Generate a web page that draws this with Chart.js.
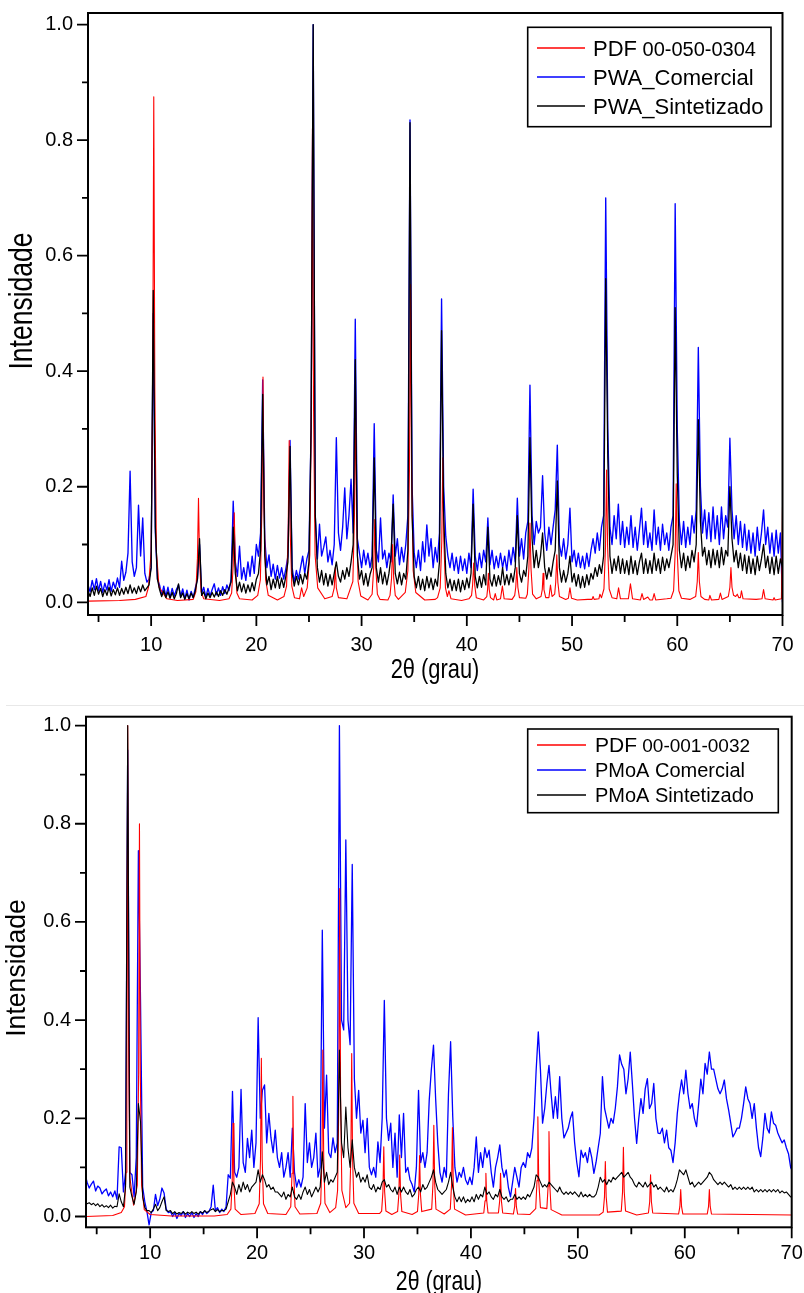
<!DOCTYPE html>
<html><head><meta charset="utf-8">
<script src="https://cdn.jsdelivr.net/npm/chart.js@4.4.1/dist/chart.umd.min.js"></script>
<style>
html,body{margin:0;padding:0;background:#fff;}
body{width:804px;height:1293px;position:relative;overflow:hidden;}
#c1{position:absolute;left:0;top:0;}
#c2{position:absolute;left:0;top:700px;}
#sep{position:absolute;left:6px;right:0;top:705px;height:1px;background:#e8e8e8;}
</style></head><body>
<canvas id="c1" width="804" height="700"></canvas>
<div id="sep"></div>
<canvas id="c2" width="804" height="593"></canvas>
<script>
// ---------- tick / label values ----------
const xMajor = [10,20,30,40,50,60,70];
const xMinor = [5,15,25,35,45,55,65];
const yMajor = [0,0.2,0.4,0.6,0.8,1.0];
const yMinor = [0.1,0.3,0.5,0.7,0.9];
const xTitle = '2θ (grau)';
const yTitle = 'Intensidade';
const pwaLabels = ['PDF 00-050-0304','PWA_Comercial','PWA_Sintetizado'];
const pmoaLabels = ['PDF 00-001-0032','PMoA Comercial','PMoA Sintetizado'];

// ---------- PWA (top) ----------
const pwaTheta = [
4,4.2,4.4,4.6,4.8,5,5.2,5.4,5.6,5.8,
6,6.2,6.4,6.6,6.8,7,7.2,7.4,7.6,7.8,
8,8.2,8.4,8.6,8.8,9,9.2,9.4,9.6,9.8,
10,10.2,10.4,10.6,10.8,11,11.2,11.4,11.6,11.8,
12,12.2,12.4,12.6,12.8,13,13.2,13.4,13.6,13.8,
14,14.2,14.4,14.6,14.8,15,15.2,15.4,15.6,15.8,
16,16.2,16.4,16.6,16.8,17,17.2,17.4,17.6,17.8,
18,18.2,18.4,18.6,18.8,19,19.2,19.4,19.6,19.8,
20,20.2,20.4,20.6,20.8,21,21.2,21.4,21.6,21.8,
22,22.2,22.4,22.6,22.8,23,23.2,23.4,23.6,23.8,
24,24.2,24.4,24.6,24.8,25,25.2,25.4,25.6,25.8,
26,26.2,26.4,26.6,26.8,27,27.2,27.4,27.6,27.8,
28,28.2,28.4,28.6,28.8,29,29.2,29.4,29.6,29.8,
30,30.2,30.4,30.6,30.8,31,31.2,31.4,31.6,31.8,
32,32.2,32.4,32.6,32.8,33,33.2,33.4,33.6,33.8,
34,34.2,34.4,34.6,34.8,35,35.2,35.4,35.6,35.8,
36,36.2,36.4,36.6,36.8,37,37.2,37.4,37.6,37.8,
38,38.2,38.4,38.6,38.8,39,39.2,39.4,39.6,39.8,
40,40.2,40.4,40.6,40.8,41,41.2,41.4,41.6,41.8,
42,42.2,42.4,42.6,42.8,43,43.2,43.4,43.6,43.8,
44,44.2,44.4,44.6,44.8,45,45.2,45.4,45.6,45.8,
46,46.2,46.4,46.6,46.8,47,47.2,47.4,47.6,47.8,
48,48.2,48.4,48.6,48.8,49,49.2,49.4,49.6,49.8,
50,50.2,50.4,50.6,50.8,51,51.2,51.4,51.6,51.8,
52,52.2,52.4,52.6,52.8,53,53.2,53.4,53.6,53.8,
54,54.2,54.4,54.6,54.8,55,55.2,55.4,55.6,55.8,
56,56.2,56.4,56.6,56.8,57,57.2,57.4,57.6,57.8,
58,58.2,58.4,58.6,58.8,59,59.2,59.4,59.6,59.8,
60,60.2,60.4,60.6,60.8,61,61.2,61.4,61.6,61.8,
62,62.2,62.4,62.6,62.8,63,63.2,63.4,63.6,63.8,
64,64.2,64.4,64.6,64.8,65,65.2,65.4,65.6,65.8,
66,66.2,66.4,66.6,66.8,67,67.2,67.4,67.6,67.8,
68,68.2,68.4,68.6,68.8,69,69.2,69.4,69.6,69.8,
70];
const pwaComercial = [
.030,.018,.038,.022,.041,.020,.036,.017,.033,.021,
.039,.019,.035,.024,.042,.026,.071,.038,.052,.085,
.227,.070,.045,.060,.168,.080,.146,.050,.035,.040,
.060,.500,.120,.040,.030,.012,.028,.010,.026,.008,
.024,.011,.022,.030,.010,.023,.006,.021,.004,.019,
.008,.025,.040,.100,.015,.026,.009,.024,.011,.022,
.032,.013,.025,.012,.027,.015,.030,.020,.040,.175,
.070,.045,.097,.040,.060,.038,.070,.045,.080,.050,
.100,.080,.120,.385,.110,.060,.082,.045,.066,.040,
.064,.042,.060,.040,.058,.080,.280,.060,.035,.055,
.040,.060,.080,.050,.075,.090,.300,1.00,.150,.075,
.135,.080,.095,.113,.070,.090,.065,.100,.285,.120,
.090,.130,.198,.110,.150,.213,.120,.490,.110,.085,
.060,.090,.065,.085,.060,.080,.309,.090,.070,.146,
.075,.090,.060,.085,.070,.186,.080,.110,.065,.095,
.070,.100,.150,.835,.200,.085,.060,.090,.055,.105,
.070,.134,.080,.110,.060,.095,.070,.120,.525,.200,
.114,.080,.060,.085,.055,.078,.050,.080,.055,.075,
.050,.085,.060,.196,.080,.055,.085,.060,.090,.070,
.146,.065,.090,.058,.080,.060,.085,.060,.080,.055,
.090,.065,.095,.070,.180,.080,.110,.075,.120,.140,
.376,.150,.100,.140,.120,.130,.219,.120,.090,.130,
.100,.130,.160,.272,.100,.080,.110,.075,.100,.163,
.070,.090,.062,.085,.060,.080,.058,.085,.062,.090,
.110,.085,.120,.090,.130,.150,.700,.300,.130,.100,
.150,.110,.170,.100,.140,.095,.130,.100,.150,.095,
.130,.090,.125,.163,.100,.140,.095,.120,.090,.160,
.100,.130,.090,.135,.100,.120,.090,.130,.150,.690,
.300,.140,.100,.140,.095,.130,.100,.150,.120,.160,
.441,.200,.120,.160,.110,.155,.105,.165,.110,.150,
.100,.165,.110,.150,.130,.284,.160,.110,.150,.100,
.140,.095,.135,.090,.125,.085,.120,.080,.130,.090,
.120,.160,.100,.130,.085,.120,.080,.125,.085,.120,
.000];
const pwaSintetizado = [
.020,.010,.025,.012,.028,.014,.024,.010,.022,.012,
.026,.011,.022,.013,.025,.012,.024,.014,.026,.015,
.030,.016,.025,.015,.028,.018,.030,.020,.025,.030,
.060,.540,.130,.040,.022,.010,.020,.008,.018,.007,
.017,.006,.015,.032,.008,.016,.005,.015,.006,.016,
.008,.020,.040,.110,.012,.018,.006,.016,.008,.017,
.009,.018,.010,.020,.012,.022,.014,.025,.035,.130,
.050,.020,.035,.018,.032,.016,.030,.018,.034,.020,
.040,.050,.090,.360,.080,.030,.045,.022,.040,.025,
.045,.024,.042,.026,.045,.070,.270,.050,.028,.045,
.030,.048,.032,.050,.040,.070,.300,1.00,.150,.060,
.035,.055,.030,.050,.028,.048,.030,.050,.070,.045,
.035,.055,.040,.060,.045,.070,.100,.420,.080,.040,
.055,.030,.050,.028,.048,.060,.250,.060,.035,.060,
.032,.052,.030,.050,.080,.170,.050,.032,.052,.030,
.050,.040,.090,.830,.150,.045,.025,.045,.022,.040,
.020,.045,.025,.042,.022,.040,.028,.070,.470,.150,
.050,.025,.040,.020,.038,.020,.040,.018,.038,.022,
.042,.025,.050,.170,.045,.025,.045,.026,.048,.030,
.130,.040,.028,.048,.028,.046,.030,.060,.030,.048,
.030,.050,.035,.060,.150,.050,.035,.055,.045,.080,
.285,.110,.060,.090,.060,.080,.120,.060,.040,.060,
.045,.070,.090,.210,.060,.035,.055,.035,.050,.080,
.035,.050,.028,.048,.025,.045,.026,.048,.030,.050,
.040,.060,.045,.065,.050,.080,.560,.250,.080,.050,
.075,.055,.080,.050,.075,.050,.072,.048,.080,.050,
.072,.048,.070,.085,.050,.075,.050,.072,.050,.085,
.055,.075,.050,.078,.055,.075,.060,.080,.100,.510,
.220,.090,.060,.085,.055,.080,.060,.090,.070,.100,
.316,.140,.080,.095,.065,.090,.060,.092,.065,.090,
.060,.095,.065,.090,.080,.200,.110,.070,.090,.060,
.085,.055,.082,.050,.080,.050,.075,.048,.080,.055,
.075,.100,.060,.080,.050,.078,.048,.080,.050,.075,
.060];
const pwaPdfTheta = [4,7,8.5,9.5,9.75,10,10.15,10.25,10.35,10.5,10.75,11.5,12.5,14,14.25,14.4,14.5,14.6,14.75,15,16.5,17.4,17.65,17.8,17.9,18,18.15,18.4,19.6,20.13,20.38,20.53,20.63,20.73,20.88,21.13,22,22.62,22.87,23.02,23.12,23.22,23.37,23.62,24.1,24.3,24.5,24.83,25.08,25.23,25.33,25.43,25.58,25.83,26.5,27.2,27.4,27.5,27.6,27.8,28.6,29.17,29.32,29.42,29.52,29.67,29.92,30.6,31,31.15,31.25,31.35,31.5,31.75,32.5,32.7,32.85,32.95,33.05,33.2,33.5,34.15,34.4,34.55,34.65,34.75,34.9,35.15,36,37,37.22,37.47,37.62,37.72,37.82,37.97,38.15,38.3,38.5,39.5,40.2,40.45,40.55,40.65,40.75,40.9,41.6,41.9,41.97,42.05,42.13,42.25,42.55,42.7,42.85,43.2,43.38,43.55,44.3,44.55,44.65,44.75,44.85,45,45.6,45.75,45.9,46,46.1,46.25,46.6,47.05,47.17,47.25,47.33,47.5,47.8,47.95,48.1,48.35,48.45,48.55,48.65,48.8,49.4,49.65,49.8,49.95,50.5,51.5,51.9,52,52.1,52.55,52.65,52.8,53.03,53.18,53.28,53.38,53.53,53.8,54.25,54.42,54.6,55.35,55.55,55.75,56.5,56.65,56.8,57.2,57.4,57.65,57.8,57.95,59,59.4,59.65,59.8,59.9,60,60.15,60.4,61.2,61.75,61.9,62,62.1,62.25,62.6,63,63.1,63.25,63.95,64.1,64.25,64.85,65,65.1,65.2,65.35,65.55,65.7,65.85,66,66.1,66.25,67.5,68.05,68.2,68.35,69.1,69.2,69.3,69.9,70];
const pwaPdf = [.002,.003,.005,.010,.026,.088,.37,.875,.37,.088,.026,.006,.003,.005,.018,.076,.18,.076,.018,.006,.003,.006,.016,.065,.155,.065,.016,.006,.004,.012,.039,.164,.39,.164,.039,.012,.004,.010,.028,.118,.28,.118,.028,.008,.006,.025,.010,.025,.082,.344,.82,.344,.082,.025,.006,.010,.025,.06,.025,.008,.006,.036,.15,.36,.15,.036,.011,.004,.014,.06,.143,.06,.014,.005,.004,.012,.042,.1,.042,.012,.005,.017,.055,.23,.55,.23,.055,.017,.004,.005,.008,.025,.105,.25,.105,.025,.010,.02,.006,.003,.006,.012,.03,.068,.03,.008,.004,.010,.022,.05,.022,.008,.004,.015,.004,.006,.028,.006,.005,.012,.026,.06,.026,.008,.007,.014,.058,.137,.058,.014,.006,.010,.022,.05,.022,.008,.008,.03,.010,.014,.035,.082,.035,.010,.005,.007,.025,.007,.004,.005,.005,.010,.005,.006,.014,.008,.023,.096,.229,.096,.023,.008,.006,.025,.006,.006,.032,.006,.004,.015,.005,.009,.004,.004,.015,.004,.006,.007,.02,.086,.205,.086,.02,.007,.005,.010,.036,.086,.036,.010,.005,.004,.012,.004,.005,.016,.005,.010,.026,.06,.026,.012,.010,.014,.008,.008,.02,.006,.005,.006,.022,.006,.004,.008,.004,.006,.165];

// ---------- PMoA (bottom) ----------
const pmoaTheta = [
3.9,4.1,4.3,4.5,4.7,4.9,5.1,5.3,5.5,5.7,
5.9,6.1,6.3,6.5,6.7,6.9,7.1,7.3,7.5,7.7,
7.9,8.1,8.3,8.5,8.7,8.9,9.1,9.3,9.5,9.7,
9.9,10.1,10.3,10.5,10.7,10.9,11.1,11.3,11.5,11.7,
11.9,12.1,12.3,12.5,12.7,12.9,13.1,13.3,13.5,13.7,
13.9,14.1,14.3,14.5,14.7,14.9,15.1,15.3,15.5,15.7,
15.9,16.1,16.3,16.5,16.7,16.9,17.1,17.3,17.5,17.7,
17.9,18.1,18.3,18.5,18.7,18.9,19.1,19.3,19.5,19.7,
19.9,20.1,20.3,20.5,20.7,20.9,21.1,21.3,21.5,21.7,
21.9,22.1,22.3,22.5,22.7,22.9,23.1,23.3,23.5,23.7,
23.9,24.1,24.3,24.5,24.7,24.9,25.1,25.3,25.5,25.7,
25.9,26.1,26.3,26.5,26.7,26.9,27.1,27.3,27.5,27.7,
27.9,28.1,28.3,28.5,28.7,28.9,29.1,29.3,29.5,29.7,
29.9,30.1,30.3,30.5,30.7,30.9,31.1,31.3,31.5,31.7,
31.9,32.1,32.3,32.5,32.7,32.9,33.1,33.3,33.5,33.7,
33.9,34.1,34.3,34.5,34.7,34.9,35.1,35.3,35.5,35.7,
35.9,36.1,36.3,36.5,36.7,36.9,37.1,37.3,37.5,37.7,
37.9,38.1,38.3,38.5,38.7,38.9,39.1,39.3,39.5,39.7,
39.9,40.1,40.3,40.5,40.7,40.9,41.1,41.3,41.5,41.7,
41.9,42.1,42.3,42.5,42.7,42.9,43.1,43.3,43.5,43.7,
43.9,44.1,44.3,44.5,44.7,44.9,45.1,45.3,45.5,45.7,
45.9,46.1,46.3,46.5,46.7,46.9,47.1,47.3,47.5,47.7,
47.9,48.1,48.3,48.5,48.7,48.9,49.1,49.3,49.5,49.7,
49.9,50.1,50.3,50.5,50.7,50.9,51.1,51.3,51.5,51.7,
51.9,52.1,52.3,52.5,52.7,52.9,53.1,53.3,53.5,53.7,
53.9,54.1,54.3,54.5,54.7,54.9,55.1,55.3,55.5,55.7,
55.9,56.1,56.3,56.5,56.7,56.9,57.1,57.3,57.5,57.7,
57.9,58.1,58.3,58.5,58.7,58.9,59.1,59.3,59.5,59.7,
59.9,60.1,60.3,60.5,60.7,60.9,61.1,61.3,61.5,61.7,
61.9,62.1,62.3,62.5,62.7,62.9,63.1,63.3,63.5,63.7,
63.9,64.1,64.3,64.5,64.7,64.9,65.1,65.3,65.5,65.7,
65.9,66.1,66.3,66.5,66.7,66.9,67.1,67.3,67.5,67.7,
67.9,68.1,68.3,68.5,68.7,68.9,69.1,69.3,69.5,69.7,
69.9,70.1];
const pmoaComercial = [
.088,.070,.058,.066,.072,.052,.062,.058,.046,.052,
.056,.042,.050,.040,.052,.035,.142,.140,.050,.090,
.950,.090,.085,.040,.120,.745,.437,.060,.030,.010,
-.017,.008,.012,.045,.022,.035,.058,.048,.015,.008,
.010,.000,.008,-.004,.006,.002,.010,-.002,.006,.000,
.008,-.002,.006,.000,.010,.004,.012,.006,.010,.020,
.064,.012,.018,.008,.015,.010,.020,.085,.078,.255,
.090,.080,.100,.259,.110,.090,.159,.120,.176,.100,
.150,.405,.200,.257,.268,.150,.210,.160,.130,.176,
.120,.100,.130,.080,.100,.130,.080,.180,.090,.060,
.075,.060,.080,.230,.110,.150,.100,.120,.170,.080,
.100,.583,.180,.288,.130,.120,.160,.130,.150,1.00,
.400,.380,.767,.400,.350,.717,.280,.200,.257,.170,
.196,.130,.200,.100,.085,.100,.080,.152,.110,.200,
.440,.200,.155,.190,.100,.170,.080,.207,.120,.210,
.090,.100,.075,.065,.050,.100,.257,.110,.130,.100,
.130,.237,.300,.349,.240,.150,.090,.070,.100,.080,
.250,.356,.203,.100,.070,.090,.080,.100,.075,.065,
.080,.065,.100,.162,.090,.130,.100,.140,.120,.135,
.090,.060,.100,.120,.146,.100,.080,.095,.060,.040,
.070,.100,.080,.060,.100,.110,.100,.130,.120,.140,
.200,.298,.376,.300,.190,.220,.270,.308,.250,.200,
.244,.200,.285,.200,.160,.170,.180,.200,.213,.150,
.110,.081,.135,.120,.130,.110,.140,.120,.088,.110,
.140,.169,.285,.220,.200,.180,.200,.190,.220,.264,
.329,.310,.300,.250,.280,.335,.270,.200,.149,.200,
.240,.210,.260,.281,.220,.230,.271,.200,.170,.169,
.180,.150,.176,.140,.135,.110,.150,.210,.250,.278,
.250,.298,.250,.220,.230,.200,.183,.230,.280,.250,
.312,.290,.335,.300,.300,.280,.260,.250,.260,.278,
.240,.217,.190,.162,.170,.180,.180,.200,.230,.264,
.240,.230,.200,.230,.180,.140,.122,.160,.210,.180,
.170,.213,.190,.186,.170,.160,.150,.156,.140,.128,
.100,.091];
const pmoaSintetizado = [
.030,.026,.028,.024,.027,.022,.026,.020,.024,.019,
.022,.018,.023,.017,.021,.020,.046,.030,.020,.060,
1.00,.060,.040,.025,.050,.230,.193,.040,.018,.012,
.012,.008,.015,.025,.012,.018,.030,.040,.012,.010,
.012,.006,.010,.005,.008,.006,.010,.005,.009,.006,
.010,.006,.009,.005,.010,.007,.012,.008,.011,.014,
.016,.010,.014,.010,.012,.012,.015,.030,.045,.070,
.060,.045,.065,.050,.070,.055,.065,.050,.060,.065,
.070,.095,.070,.085,.075,.060,.065,.055,.060,.050,
.050,.045,.040,.050,.035,.045,.040,.060,.040,.035,
.045,.035,.050,.060,.045,.055,.040,.050,.060,.050,
.060,.132,.070,.090,.065,.075,.070,.080,.090,.339,
.150,.120,.223,.140,.100,.156,.100,.080,.090,.070,
.080,.070,.085,.060,.055,.065,.050,.060,.055,.070,
.075,.060,.065,.055,.050,.060,.045,.060,.050,.060,
.050,.045,.055,.040,.045,.055,.060,.050,.065,.055,
.060,.070,.080,.095,.070,.055,.050,.045,.050,.055,
.070,.090,.060,.040,.030,.040,.030,.040,.028,.035,
.030,.040,.030,.045,.035,.045,.040,.060,.045,.050,
.040,.035,.045,.040,.055,.040,.035,.040,.030,.035,
.035,.045,.035,.040,.035,.040,.035,.045,.040,.050,
.060,.085,.080,.070,.060,.065,.060,.070,.065,.060,
.055,.050,.060,.050,.045,.050,.045,.050,.045,.050,
.045,.040,.050,.040,.045,.040,.045,.040,.040,.045,
.060,.080,.070,.075,.065,.075,.070,.080,.075,.080,
.085,.090,.080,.085,.090,.080,.075,.065,.060,.070,
.065,.060,.070,.060,.065,.070,.060,.065,.055,.060,
.055,.050,.060,.050,.055,.050,.060,.075,.095,.090,
.085,.095,.080,.065,.070,.060,.065,.070,.065,.070,
.075,.080,.090,.085,.075,.070,.065,.070,.065,.070,
.065,.060,.065,.055,.060,.055,.060,.055,.060,.055,
.060,.055,.060,.050,.055,.050,.055,.050,.055,.050,
.055,.050,.055,.050,.055,.048,.052,.048,.050,.045,
.040,.040];
const pmoaPdfTheta = [4,6.5,7.3,7.6,7.75,7.82,7.9,7.98,8.1,8.45,8.8,8.92,9,9.08,9.2,9.45,10,12,16,17.2,17.55,17.67,17.75,17.83,17.95,18.5,19.8,20.2,20.32,20.4,20.48,20.6,21,22.7,23.15,23.27,23.35,23.43,23.55,24,25.6,25.95,26.07,26.15,26.23,26.35,26.8,27.35,27.53,27.65,27.73,27.81,27.93,28.3,28.65,28.77,28.85,28.93,29.05,29.5,31.45,31.65,31.77,31.85,31.93,32.05,32.6,33.14,33.26,33.34,33.42,33.54,34.5,35,35.12,35.2,35.28,35.4,36.33,36.45,36.53,36.61,36.73,37.5,38.07,38.19,38.27,38.35,38.47,39.5,41.2,41.32,41.4,41.48,41.6,42.57,42.69,42.77,42.85,42.97,43.97,44.09,44.17,44.25,44.37,45.5,46.06,46.18,46.26,46.34,46.5,47.1,47.22,47.3,47.38,47.5,48.5,52,52.37,52.49,52.57,52.65,52.77,54.06,54.18,54.26,54.34,54.46,55.5,56.6,56.72,56.8,56.88,57,59.42,59.54,59.62,59.7,59.82,62.1,62.22,62.3,62.38,62.5,70];
const pmoaPdf = [0,.002,.008,.02,.09,.36,1.0,.36,.08,.023,.064,.29,.8,.29,.064,.014,.004,.001,.001,.004,.015,.068,.19,.068,.015,.004,.006,.026,.116,.322,.116,.026,.006,.004,.02,.088,.245,.088,.02,.005,.006,.027,.122,.339,.122,.027,.008,.018,.053,.24,.668,.24,.053,.018,.027,.12,.332,.12,.027,.006,.006,.011,.051,.142,.051,.011,.004,.010,.045,.125,.045,.010,.004,.010,.045,.124,.045,.010,.015,.067,.186,.067,.015,.005,.015,.065,.181,.065,.015,.003,.007,.032,.088,.032,.007,.007,.032,.088,.032,.007,.005,.02,.057,.02,.005,.004,.016,.073,.203,.073,.018,.016,.062,.173,.062,.014,.003,.003,.009,.04,.112,.04,.009,.011,.05,.141,.05,.011,.003,.007,.03,.085,.03,.007,.005,.02,.055,.02,.005,.005,.02,.055,.02,.005,.003];

// ---------- helpers ----------
const FAMILY = "'Liberation Sans', Arial, Helvetica, sans-serif";
Chart.defaults.font.family = FAMILY;
Chart.defaults.color = '#000';
Chart.defaults.animation = false;
const pts = (xs, ys) => xs.map((x, i) => ({x, y: ys[i]}));

const framePlugin = {
  id: 'frame',
  afterDatasetsDraw(chart, args, o) {
    const {ctx, chartArea: a} = chart;
    const xs = chart.scales.x, ys = chart.scales.y;
    ctx.save();
    ctx.strokeStyle = '#000';
    ctx.lineWidth = 2;
    ctx.strokeRect(a.left, a.top, a.right - a.left, a.bottom - a.top);
    ctx.lineWidth = 1.8;
    ctx.beginPath();
    xMajor.forEach(v => { const p = xs.getPixelForValue(v); ctx.moveTo(p, a.bottom); ctx.lineTo(p, a.bottom + o.tickMajor); });
    xMinor.forEach(v => { const p = xs.getPixelForValue(v); ctx.moveTo(p, a.bottom); ctx.lineTo(p, a.bottom + o.tickMinorX); });
    yMajor.forEach(v => { const p = ys.getPixelForValue(v); ctx.moveTo(a.left, p); ctx.lineTo(a.left - o.tickMajor, p); });
    yMinor.forEach(v => { const p = ys.getPixelForValue(v); ctx.moveTo(a.left, p); ctx.lineTo(a.left - o.tickMinorY, p); });
    ctx.stroke();

    // axis titles
    ctx.fillStyle = '#000';
    const tx = o.xTitle;
    ctx.save();
    ctx.translate(tx.cx, tx.cy);
    ctx.scale(tx.sx, 1);
    ctx.font = tx.size + 'px ' + FAMILY;
    ctx.textAlign = 'center'; ctx.textBaseline = 'alphabetic';
    ctx.fillText(xTitle, 0, tx.size * 0.36);
    ctx.restore();
    const ty = o.yTitle;
    ctx.save();
    ctx.translate(ty.cx, ty.cy);
    ctx.rotate(-Math.PI / 2);
    ctx.scale(ty.sx, 1);
    ctx.font = ty.size + 'px ' + FAMILY;
    ctx.textAlign = 'center'; ctx.textBaseline = 'alphabetic';
    ctx.fillText(yTitle, 0, ty.size * 0.36);
    ctx.restore();

    // legend
    const L = o.legend;
    ctx.fillStyle = '#fff';
    ctx.fillRect(L.box[0], L.box[1], L.box[2] - L.box[0], L.box[3] - L.box[1]);
    ctx.strokeStyle = '#000'; ctx.lineWidth = 1.6;
    ctx.strokeRect(L.box[0], L.box[1], L.box[2] - L.box[0], L.box[3] - L.box[1]);
    chart.data.datasets.forEach((ds, i) => {
      const yy = L.rows[i];
      ctx.strokeStyle = ds.borderColor; ctx.lineWidth = 1.5;
      ctx.beginPath(); ctx.moveTo(L.lineX[0], yy); ctx.lineTo(L.lineX[1], yy); ctx.stroke();
      ctx.fillStyle = '#000'; ctx.textAlign = 'left'; ctx.textBaseline = 'alphabetic';
      const parts = ds.label.startsWith('PDF ')
        ? [['PDF', L.pdfSize], [' ' + ds.label.slice(4), L.numSize]]
        : [[ds.label, L.nameSize]];
      let x = L.textX;
      const base = yy + L.nameSize * 0.36;
      parts.forEach(([t, s]) => { ctx.font = s + 'px ' + FAMILY; ctx.fillText(t, x, base); x += ctx.measureText(t).width; });
    });
    ctx.restore();
  }
};

function build(id, data, labels, g) {
  const colors = ['#ff0000', '#0000ff', '#000000'];
  const orders = [2, 3, 1];
  return new Chart(document.getElementById(id), {
    type: 'line',
    data: {
      datasets: data.map((d, i) => ({
        label: labels[i], data: d, borderColor: colors[i], borderWidth: g.widths[i],
        pointRadius: 0, tension: 0, fill: false, order: orders[i], borderJoinStyle: 'round'
      }))
    },
    options: {
      responsive: false,
      events: [],
      layout: { padding: { top: g.top, right: g.right, left: 0, bottom: 0 } },
      plugins: {
        legend: { display: false }, tooltip: { enabled: false },
        frame: {
          tickMajor: 11, tickMinorX: 7, tickMinorY: 6,
          xTitle: g.xTitle, yTitle: g.yTitle, legend: g.legend
        }
      },
      scales: {
        x: {
          type: 'linear', min: 4, max: 70,
          afterBuildTicks: s => { s.ticks = xMajor.map(v => ({ value: v })); },
          afterFit: s => { s.height = g.xAxisH; },
          ticks: { font: { size: 20 }, color: '#000', padding: 0, maxRotation: 0, autoSkip: false, callback: v => String(v) },
          grid: { display: false, drawTicks: true, tickLength: g.xGap },
          border: { display: false }
        },
        y: {
          type: 'linear', min: -0.022, max: g.yMax,
          afterBuildTicks: s => { s.ticks = yMajor.map(v => ({ value: v })); },
          afterFit: s => { s.width = g.yAxisW; },
          ticks: { font: { size: 20 }, color: '#000', padding: 0, callback: v => Number(v).toFixed(1) },
          grid: { display: false, drawTicks: true, tickLength: 15 },
          border: { display: false }
        }
      }
    },
    plugins: [framePlugin]
  });
}

build('c1',
  [pts(pwaPdfTheta, pwaPdf), pts(pwaTheta, pwaComercial), pts(pwaTheta, pwaSintetizado)],
  pwaLabels,
  { top: 13, right: 21.5, xAxisH: 85, yAxisW: 88, yMax: 1.02, xGap: 18, widths: [1.1, 1.35, 1.3],
    xTitle: { cx: 435, cy: 668, size: 28, sx: 0.78 },
    yTitle: { cx: 20, cy: 301, size: 34, sx: 0.78 },
    legend: { box: [527.7, 27.3, 771, 126.7], rows: [48, 77, 106], lineX: [537, 585], textX: 593,
              pdfSize: 22, numSize: 20, nameSize: 22 } });

build('c2',
  [pts(pmoaPdfTheta, pmoaPdf), pts(pmoaTheta, pmoaComercial), pts(pmoaTheta, pmoaSintetizado)],
  pmoaLabels,
  { top: 16.7, right: 12.3, xAxisH: 65.7, yAxisW: 86, yMax: 1.018, xGap: 14, widths: [1.1, 1.3, 1.1],
    xTitle: { cx: 439, cy: 580, size: 28, sx: 0.76 },
    yTitle: { cx: 15, cy: 268, size: 28, sx: 0.95 },
    legend: { box: [527.7, 29, 778.3, 112.7], rows: [45, 70, 95], lineX: [537, 586], textX: 595,
              pdfSize: 21, numSize: 19, nameSize: 20 } });
</script>
</body></html>
